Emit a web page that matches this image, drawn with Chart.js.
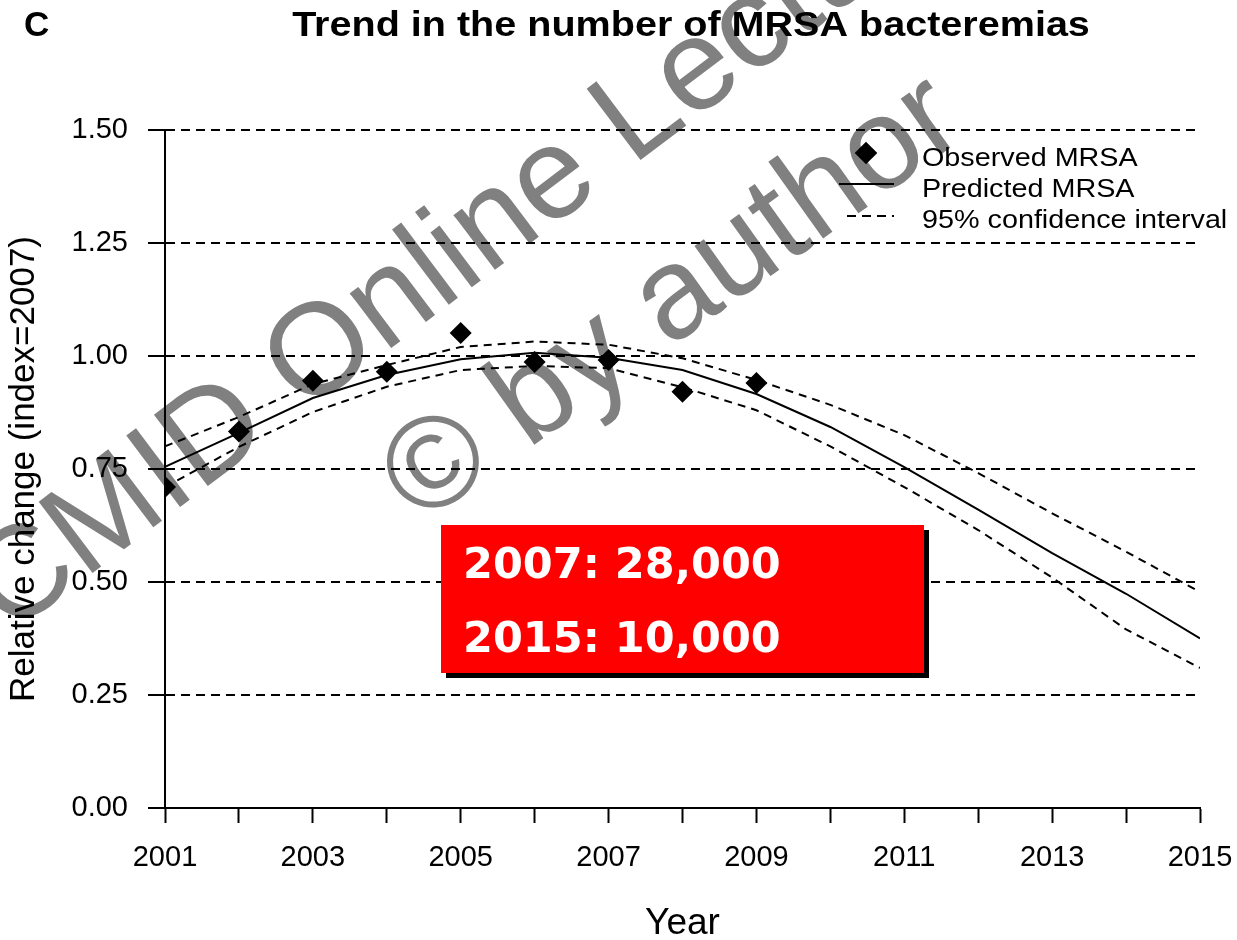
<!DOCTYPE html>
<html>
<head>
<meta charset="utf-8">
<title>Trend in the number of MRSA bacteremias</title>
<script src="https://cdn.jsdelivr.net/npm/chart.js@4.4.1/dist/chart.umd.min.js"></script>
<style>
    body { margin: 0; background: #fff; }
    #wrap { position: relative; width: 1237px; height: 940px; }
    #note {
        position: absolute; left: 441px; top: 525px; width: 483px; height: 148px;
        background: #ff0000; box-shadow: 5px 5px 0 #000;
        color: #fff; font-family: 'DejaVu Sans', Verdana, sans-serif; font-weight: bold; font-size: 43px;
        box-sizing: border-box; padding: 0 0 0 22px; line-height: 76px;
    }
</style>
</head>
<body>
<div id="wrap">
    <canvas id="mrsa" width="1237" height="940"></canvas>
    <div id="note"><div>2007: 28,000</div><div style="margin-top:-2px">2015: 10,000</div></div>
</div>
<script>
// 觀察值 (2001-2009)
const OBS_YEARS = [2001, 2002, 2003, 2004, 2005, 2006, 2007, 2008, 2009];
const OBSERVED = [0.71, 0.833, 0.945, 0.965, 1.051, 0.987, 0.991, 0.921, 0.940];

// 預測值與 95% 信賴區間 (2001-2015)
const PRED_YEARS = [2001, 2002, 2003, 2004, 2005, 2006, 2007, 2008, 2009, 2010, 2011, 2012, 2013, 2014, 2015];
const PREDICTED = [0.755, 0.83, 0.907, 0.958, 0.993, 1.007, 0.996, 0.969, 0.916, 0.843, 0.754, 0.66, 0.564, 0.474, 0.375];
const UPPER = [0.80, 0.865, 0.938, 0.98, 1.02, 1.032, 1.025, 0.995, 0.947, 0.892, 0.825, 0.741, 0.652, 0.567, 0.478];
const LOWER = [0.71, 0.799, 0.876, 0.932, 0.969, 0.978, 0.973, 0.931, 0.88, 0.80, 0.71, 0.615, 0.51, 0.395, 0.31];

const Y_TICKS = [0, 0.25, 0.5, 0.75, 1.0, 1.25, 1.5];
const LEGEND_LABELS = ['Observed MRSA', 'Predicted MRSA', '95% confidence interval'];

const FONT = "'Liberation Sans', Arial, sans-serif";
const toPoints = (xs, ys) => xs.map((x, i) => ({ x: x, y: ys[i] }));

// 浮水印 (畫在最底層)
const watermark = {
    id: 'watermark',
    beforeDraw(chart) {
        const ctx = chart.ctx;
        ctx.save();
        ctx.fillStyle = '#808080';
        ctx.font = `130px ${FONT}`;
        ctx.textBaseline = 'alphabetic';
        ctx.textAlign = 'left';
        [['CMID Online Lecture', 9, 636, -37], ['\u00a9 by author', 420, 526, -35.5]].forEach(([text, x, y, deg]) => {
            ctx.save();
            ctx.translate(x, y);
            ctx.rotate(deg * Math.PI / 180);
            ctx.fillText(text, 0, 0);
            ctx.restore();
        });
        ctx.restore();
    }
};

// 標題與圖例
const decorations = {
    id: 'decorations',
    afterDraw(chart) {
        const ctx = chart.ctx;
        ctx.save();
        ctx.fillStyle = '#000';
        ctx.textBaseline = 'alphabetic';

        ctx.font = `bold 35px ${FONT}`;
        ctx.textAlign = 'left';
        ctx.fillText('C', 24, 36);

        ctx.save();
        ctx.translate(691, 36);
        ctx.scale(1.13, 1);
        ctx.textAlign = 'center';
        ctx.fillText('Trend in the number of MRSA bacteremias', 0, 0);
        ctx.restore();

        // legend
        ctx.save();
        ctx.translate(866, 153);
        ctx.rotate(Math.PI / 4);
        ctx.fillRect(-8, -8, 16, 16);
        ctx.restore();

        ctx.strokeStyle = '#000';
        ctx.lineWidth = 2;
        ctx.beginPath();
        ctx.moveTo(839, 184);
        ctx.lineTo(894, 184);
        ctx.stroke();
        ctx.setLineDash([9, 6]);
        ctx.beginPath();
        ctx.moveTo(847, 216);
        ctx.lineTo(894, 216);
        ctx.stroke();
        ctx.setLineDash([]);

        ctx.font = `25px ${FONT}`;
        ctx.textAlign = 'left';
        LEGEND_LABELS.forEach((label, i) => {
            ctx.save();
            ctx.translate(922, 166 + i * 31);
            ctx.scale(1.15, 1);
            ctx.fillText(label, 0, 0);
            ctx.restore();
        });
        ctx.restore();
    }
};

const ctx = document.getElementById('mrsa').getContext('2d');
new Chart(ctx, {
    type: 'line',
    data: {
        datasets: [
            {
                label: LEGEND_LABELS[0],
                data: toPoints(OBS_YEARS, OBSERVED),
                showLine: false,
                pointStyle: 'rectRot',
                pointRadius: 11,
                pointBackgroundColor: '#000',
                pointBorderWidth: 0,
                order: 0
            },
            {
                label: LEGEND_LABELS[1],
                data: toPoints(PRED_YEARS, PREDICTED),
                borderColor: '#000',
                borderWidth: 2,
                pointRadius: 0,
                tension: 0,
                order: 1
            },
            {
                label: 'Upper 95% CI',
                data: toPoints(PRED_YEARS, UPPER),
                borderColor: '#000',
                borderWidth: 2,
                borderDash: [8, 6],
                pointRadius: 0,
                tension: 0,
                order: 2
            },
            {
                label: 'Lower 95% CI',
                data: toPoints(PRED_YEARS, LOWER),
                borderColor: '#000',
                borderWidth: 2,
                borderDash: [8, 6],
                pointRadius: 0,
                tension: 0,
                order: 2
            }
        ]
    },
    options: {
        responsive: false,
        animation: false,
        devicePixelRatio: 1,
        layout: { padding: { top: 130, right: 37, left: 0, bottom: 0 } },
        plugins: {
            legend: { display: false },
            tooltip: { enabled: false }
        },
        scales: {
            x: {
                type: 'linear',
                min: 2001,
                max: 2015,
                afterFit: scale => {
                    scale.height = 132;
                    scale.paddingLeft = 0;
                    scale.paddingRight = 0;
                },
                ticks: {
                    stepSize: 1,
                    autoSkip: false,
                    maxRotation: 0,
                    padding: 18,
                    color: '#000',
                    font: { family: FONT, size: 29 },
                    callback: v => (Math.round(v) % 2 === 1 ? String(Math.round(v)) : '')
                },
                grid: {
                    drawOnChartArea: false,
                    drawTicks: true,
                    tickLength: 15,
                    tickColor: '#000',
                    tickWidth: 2
                },
                border: { color: '#000', width: 2 },
                title: {
                    display: true,
                    text: 'Year',
                    color: '#000',
                    font: { family: FONT, size: 37, lineHeight: 0.9 },
                    padding: { top: 0, bottom: 0 }
                }
            },
            y: {
                min: 0,
                max: 1.5,
                afterFit: scale => { scale.width = 165; },
                afterBuildTicks: scale => { scale.ticks = Y_TICKS.map(v => ({ value: v })); },
                ticks: {
                    padding: 20,
                    color: '#000',
                    font: { family: FONT, size: 29 },
                    callback: v => Number(v).toFixed(2)
                },
                grid: {
                    color: '#000',
                    lineWidth: 2,
                    drawTicks: true,
                    tickLength: 17,
                    tickColor: '#000',
                    tickWidth: 2,
                    tickBorderDash: []
                },
                border: { color: '#000', width: 2, dash: [9, 6] },
                title: {
                    display: true,
                    text: 'Relative change (index=2007)',
                    color: '#000',
                    font: { family: FONT, size: 35, lineHeight: 1 },
                    padding: { top: 7, bottom: 0 }
                }
            }
        }
    },
    plugins: [watermark, decorations]
});
</script>
</body>
</html>
